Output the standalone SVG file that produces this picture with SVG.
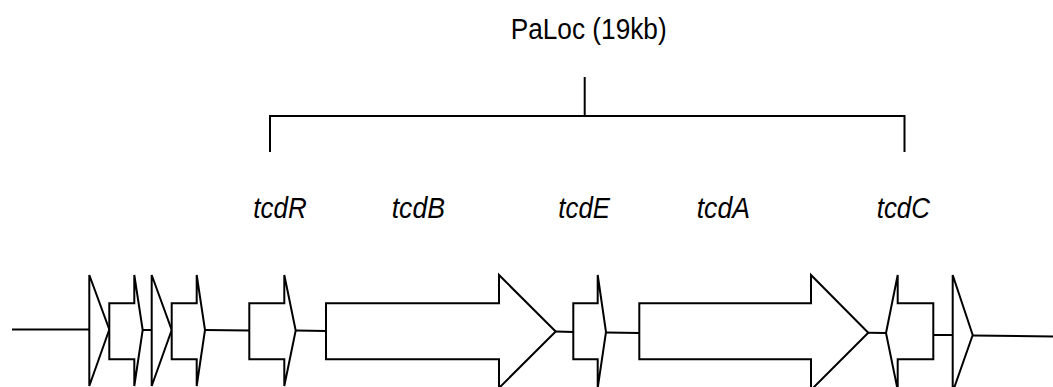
<svg xmlns="http://www.w3.org/2000/svg" width="1053" height="387" viewBox="0 0 1053 387">
<style>
.g{fill:#fff;stroke:#000;stroke-width:2;stroke-linejoin:miter}
.c{fill:none;stroke:#000;stroke-width:2}
.lbl{font-family:"Liberation Sans",Arial,sans-serif;font-style:italic;font-size:30px;fill:#000}
.title{font-family:"Liberation Sans",Arial,sans-serif;font-size:30px;fill:#000}
</style>
<rect width="1053" height="387" fill="#fff"/>
<g id="connectors">
<line class="c" x1="12" y1="329.5" x2="89.3" y2="329.5"/>
<line class="c" x1="142.7" y1="330" x2="151.7" y2="330"/>
<line class="c" x1="205" y1="330" x2="249.3" y2="330.5"/>
<line class="c" x1="295.7" y1="330.5" x2="326" y2="331"/>
<line class="c" x1="555.7" y1="331.5" x2="573.3" y2="332"/>
<line class="c" x1="606" y1="332.5" x2="639.3" y2="333"/>
<line class="c" x1="868.3" y1="332.7" x2="886" y2="333"/>
<line class="c" x1="933.3" y1="335" x2="952.7" y2="335"/>
<line class="c" x1="972.7" y1="335.5" x2="1053" y2="336.5"/>
<polyline class="c" points="270,152 270,116 904.5,116 904.5,152"/>
<line class="c" x1="584.7" y1="77" x2="584.7" y2="116"/>
</g>
<g id="title"><text class="title" x="510.7" y="38.5" textLength="156" lengthAdjust="spacingAndGlyphs">PaLoc (19kb)</text></g>
<g id="gene1"><polygon class="g" points="89.3,275 109.3,329.5 89.3,386"/></g>
<g id="gene2"><polygon class="g" points="109.3,303.3 134.3,303.3 134.3,275 142.7,330 134.3,386 134.3,359.3 109.3,359.3"/></g>
<g id="gene3"><polygon class="g" points="151.7,275 171.7,330 151.7,386"/></g>
<g id="gene4"><polygon class="g" points="171.7,303.3 196.7,303.3 196.7,275 205,330 196.7,386 196.7,359.3 171.7,359.3"/></g>
<g id="tcdR">
<polygon class="g" points="249.3,303.3 284.3,303.3 284.3,275 295.7,330.5 284.3,386 284.3,359.3 249.3,359.3"/>
<text class="lbl" x="253.3" y="218" textLength="53.4" lengthAdjust="spacingAndGlyphs">tcdR</text>
</g>
<g id="tcdB">
<polygon class="g" points="326,303.3 499,303.3 499,275 555.7,331.5 499,388 499,359.3 326,359.3"/>
<text class="lbl" x="391.7" y="218" textLength="53.3" lengthAdjust="spacingAndGlyphs">tcdB</text>
</g>
<g id="tcdE">
<polygon class="g" points="573.3,303.3 597.7,303.3 597.7,275 606,332 597.7,388 597.7,359.3 573.3,359.3"/>
<text class="lbl" x="558.3" y="218" textLength="51.7" lengthAdjust="spacingAndGlyphs">tcdE</text>
</g>
<g id="tcdA">
<polygon class="g" points="639.3,303.3 811,303.3 811,275 868.3,332.7 811,390 811,359.3 639.3,359.3"/>
<text class="lbl" x="696.7" y="218" textLength="53.3" lengthAdjust="spacingAndGlyphs">tcdA</text>
</g>
<g id="tcdC">
<polygon class="g" points="933.3,303.3 897.7,303.3 897.7,275 886,333 897.7,390 897.7,359.3 933.3,359.3"/>
<text class="lbl" x="876.7" y="218" textLength="53.3" lengthAdjust="spacingAndGlyphs">tcdC</text>
</g>
<g id="gene10"><polygon class="g" points="952.7,275 972.7,335 952.7,392"/></g>
</svg>
